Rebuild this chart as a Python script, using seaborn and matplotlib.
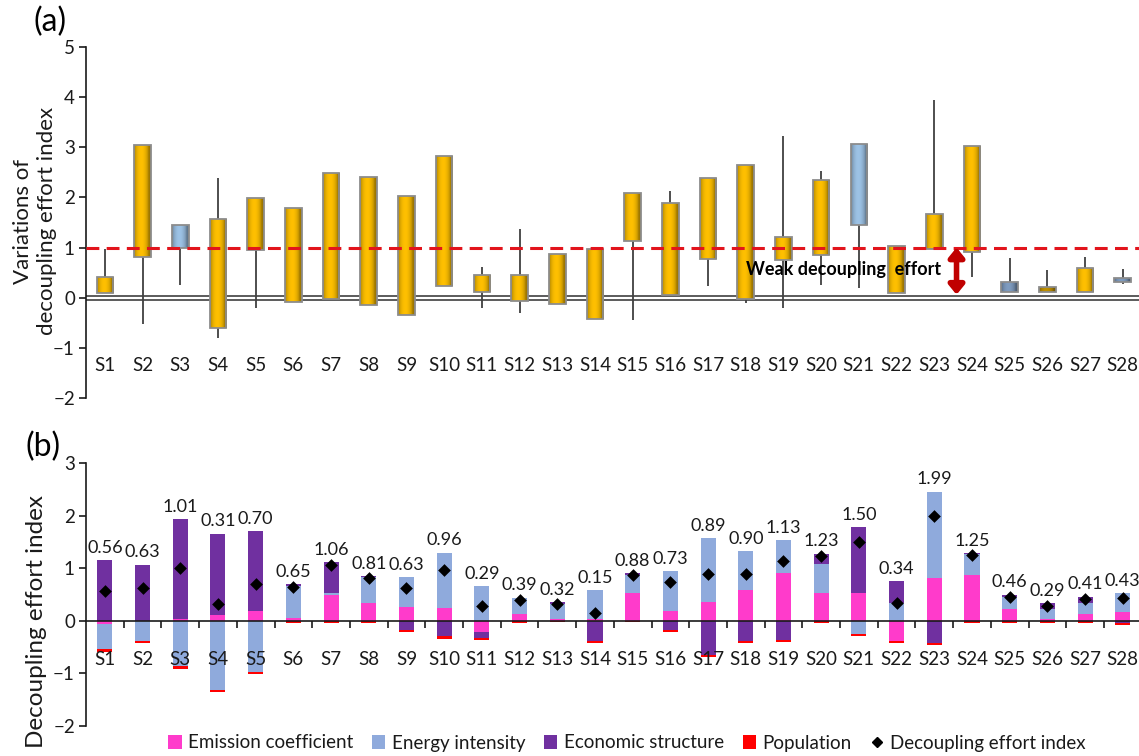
import numpy as np
import matplotlib.pyplot as plt
import matplotlib.colors as mcolors
from matplotlib.patches import Patch
from matplotlib.lines import Line2D
import seaborn as sns

# Data
regions = [f"S{i}" for i in range(1, 29)]

# (a) floating boxes (variation range) and whiskers, nan = no whisker
box_low = [0.10, 0.81, 1.00, -0.61, 0.95, -0.09, -0.02, -0.15, -0.35, 0.24,
           0.11, -0.07, -0.12, -0.43, 1.14, 0.05, 0.77, -0.03, 0.76, 0.86,
           1.46, 0.09, 0.98, 0.91, 0.12, 0.11, 0.11, 0.31]
box_high = [0.41, 3.04, 1.46, 1.57, 1.99, 1.79, 2.48, 2.40, 2.03, 2.83,
            0.45, 0.45, 0.88, 0.98, 2.09, 1.88, 2.39, 2.65, 1.22, 2.34,
            3.07, 1.03, 1.66, 3.03, 0.31, 0.22, 0.60, 0.39]
wick_low = [np.nan, -0.52, 0.26, -0.81, -0.20, np.nan, np.nan, np.nan, np.nan, np.nan,
            -0.20, -0.30, np.nan, np.nan, -0.45, np.nan, 0.23, -0.10, -0.21, 0.26,
            0.20, np.nan, np.nan, 0.42, np.nan, np.nan, np.nan, 0.28]
wick_high = [0.98, np.nan, np.nan, 2.38, np.nan, np.nan, np.nan, np.nan, np.nan, np.nan,
             0.61, 1.38, np.nan, np.nan, np.nan, 2.12, np.nan, np.nan, 3.23, 2.53,
             np.nan, np.nan, 3.94, np.nan, 0.79, 0.55, 0.81, 0.58]
box_kind = ["up"] * 28
box_kind[2] = "down"
box_kind[20] = "down"
box_kind[24] = "slate"
box_kind[25] = "dark"
box_kind[27] = "slate"

# (b) decomposition
emission = [-0.07, 0.00, 0.04, 0.11, 0.18, 0.06, 0.50, 0.33, 0.26, 0.25,
            -0.21, 0.12, 0.03, 0.04, 0.52, 0.19, 0.36, 0.58, 0.91, 0.52,
            0.52, -0.38, 0.82, 0.88, 0.23, 0.03, 0.13, 0.17]
energy = [-0.47, -0.39, -0.87, -1.32, -0.97, 0.60, 0.02, 0.50, 0.57, 1.05,
          0.66, 0.32, 0.29, 0.54, 0.35, 0.75, 1.22, 0.75, 0.62, 0.57,
          -0.25, 0.34, 1.64, 0.39, 0.23, 0.19, 0.20, 0.35]
economic = [1.15, 1.07, 1.89, 1.55, 1.53, 0.04, 0.59, 0.02, -0.17, -0.30,
            -0.11, 0.00, 0.03, -0.39, 0.04, -0.17, -0.65, -0.38, -0.36, 0.19,
            1.27, 0.41, -0.43, 0.02, 0.04, 0.11, 0.13, -0.04]
population = [-0.05, -0.04, -0.05, -0.04, -0.04, -0.04, -0.04, -0.04, -0.04, -0.05,
              -0.04, -0.04, -0.03, -0.04, -0.03, -0.04, -0.04, -0.04, -0.04, -0.04,
              -0.04, -0.04, -0.04, -0.04, -0.04, -0.04, -0.04, -0.05]
effort_index = [0.56, 0.63, 1.01, 0.31, 0.70, 0.65, 1.06, 0.81, 0.63, 0.96,
                0.29, 0.39, 0.32, 0.15, 0.88, 0.73, 0.89, 0.90, 1.13, 1.23,
                1.50, 0.34, 1.99, 1.25, 0.46, 0.29, 0.41, 0.43]

series_names = ["Emission coefficient", "Energy intensity", "Economic structure", "Population"]
series_colors = ["#FF3BCB", "#8FAADC", "#7030A0", "#FF0000"]
kind_colors = {"up": "#FFC000", "down": "#9DC3E6", "slate": "#7F9CC0", "dark": "#C09000"}

TXT = "#1A1A1A"

sns.set_style("white")
plt.rcParams["font.family"] = ["Lato", "DejaVu Sans"]

W, H = 1139, 756
fig = plt.figure(figsize=(W / 100, H / 100), dpi=100)
ax_a = fig.add_axes([86 / W, 1 - 398 / H, (W - 86) / W, 351 / H])
ax_b = fig.add_axes([86 / W, 1 - 725.7 / H, (W - 86) / W, 262.4 / H])
n = len(regions)
xpos = np.arange(n)
XLIM = (-0.5, 27.43)


def shade_bar(ax, patch, base):
    # horizontal "cylinder" shading like the Excel bars
    t = np.linspace(0, 1, 64)
    fac = 0.62 + 0.38 * np.sin(np.pi * np.clip(t * 1.15, 0, 1)) ** 0.6
    rgb = np.clip(np.array(mcolors.to_rgb(base))[None, :] * fac[:, None], 0, 1)
    x0, y0 = patch.get_x(), patch.get_y()
    w, h = patch.get_width(), patch.get_height()
    im = ax.imshow(rgb[None, :, :], extent=[x0, x0 + w, y0, y0 + h],
                   aspect="auto", interpolation="bilinear", zorder=3)
    im.set_clip_path(patch)
    patch.set_facecolor("none")
    patch.set_zorder(4)


# ---------- (a) ----------
lo = np.array(box_low)
hi = np.array(box_high)
wl = np.fmin(np.array(wick_low), lo)
wh = np.fmax(np.array(wick_high), hi)
ax_a.vlines(xpos, wl, wh, color="#404040", lw=1.3, zorder=2)

sns.barplot(x=regions, y=hi - lo, bottom=lo, width=0.44, color="#FFC000",
            saturation=1, errorbar=None, ax=ax_a, edgecolor="#8C8C8C", linewidth=1.3)
for patch, kind in zip(list(ax_a.patches), box_kind):
    shade_bar(ax_a, patch, kind_colors[kind])

ax_a.axhline(0.04, color="#404040", lw=1.2, zorder=1)
ax_a.axhline(-0.04, color="#404040", lw=1.2, zorder=1)
ax_a.axhline(1.0, color="#E2141C", lw=2.2, dashes=(4.2, 2.4), zorder=5)
ax_a.text(17.0, 0.57, "Weak decoupling  effort", fontsize=13, fontweight="bold",
          color="black", va="center", ha="left", zorder=6)
ax_a.annotate("", xy=(22.59, 1.0), xytext=(22.59, 0.06),
              arrowprops=dict(arrowstyle="<|-|>,head_length=0.55,head_width=0.45",
                              color="#C00000", lw=4, shrinkA=0, shrinkB=0), zorder=6)
for i, r in enumerate(regions):
    ax_a.text(i, -1.35, r, ha="center", va="center", fontsize=13.5, color=TXT)

ax_a.set_ylim(-2, 5)
ax_a.set_yticks(range(-2, 6))
ax_a.set_xlim(*XLIM)
ax_a.set_xticks([])
ax_a.set_xlabel("")
ax_a.set_ylabel("")
for s in ["top", "right", "bottom"]:
    ax_a.spines[s].set_visible(False)
ax_a.spines["left"].set_color(TXT)
ax_a.spines["left"].set_linewidth(1.2)
ax_a.tick_params(axis="y", direction="out", length=5, width=1.2, color=TXT,
                 labelsize=13.5, labelcolor=TXT, pad=3, left=True)

# ---------- (b) ----------
pos_base = np.zeros(n)
neg_base = np.zeros(n)
for name, vals, col in zip(series_names, [emission, energy, economic, population], series_colors):
    v = np.asarray(vals, dtype=float)
    base = np.where(v >= 0, pos_base, neg_base)
    sns.barplot(x=regions, y=v, bottom=base, width=0.4, color=col, saturation=1,
                errorbar=None, ax=ax_b, linewidth=0)
    pos_base += np.clip(v, 0, None)
    neg_base += np.clip(v, None, 0)

sns.scatterplot(x=regions, y=effort_index, marker="D", s=42, color="black",
                edgecolor="black", linewidth=0, ax=ax_b, zorder=6, legend=False)
for i, v in enumerate(effort_index):
    ax_b.annotate(f"{v:.2f}", xy=(i, pos_base[i]), xytext=(0, 3), textcoords="offset points",
                  ha="center", va="bottom", fontsize=13, color=TXT)
for i, r in enumerate(regions):
    ax_b.text(i, -0.74, r, ha="center", va="center", fontsize=13.5, color=TXT)

ax_b.set_ylim(-2, 3)
ax_b.set_yticks(range(-2, 4))
ax_b.set_xlim(*XLIM)
ax_b.set_xticks(np.arange(0.5, 27.5, 1))
ax_b.set_xticklabels([])
ax_b.set_xlabel("")
ax_b.set_ylabel("")
for s in ["top", "right"]:
    ax_b.spines[s].set_visible(False)
ax_b.spines["bottom"].set_position(("data", 0))
ax_b.spines["bottom"].set_zorder(5)
for s in ["left", "bottom"]:
    ax_b.spines[s].set_color(TXT)
    ax_b.spines[s].set_linewidth(1.2)
ax_b.tick_params(axis="y", direction="out", length=5, width=1.2, color=TXT,
                 labelsize=13.5, labelcolor=TXT, pad=3, left=True)
ax_b.tick_params(axis="x", direction="out", length=5, width=1.2, color=TXT, bottom=True)

# axis titles and panel tags
fig.text(35 / W, 1 - 221 / H, "Variations of\ndecoupling effort index", rotation=90,
         ha="center", va="center", fontsize=16, color=TXT, linespacing=1.2)
fig.text(37 / W, 1 - 622 / H, "Decoupling effort index", rotation=90,
         ha="center", va="center", fontsize=17.5, color=TXT)
fig.text(50 / W, 1 - 22 / H, "(a)", ha="center", va="center", fontsize=23, color="black")
fig.text(43 / W, 1 - 447 / H, "(b)", ha="center", va="center", fontsize=23, color="black")

handles = [Patch(facecolor=c, edgecolor="none") for c in series_colors]
handles.append(Line2D([], [], marker="D", color="black", linestyle="None", markersize=5))
fig.legend(handles, series_names + ["Decoupling effort index"], loc="center",
           bbox_to_anchor=(627 / W, 1 - 743 / H), ncol=5, frameon=False, fontsize=13.5,
           handlelength=0.7, handleheight=0.7, handletextpad=0.35, columnspacing=1.0,
           labelcolor=TXT)

fig.savefig("out.png", dpi=100)
